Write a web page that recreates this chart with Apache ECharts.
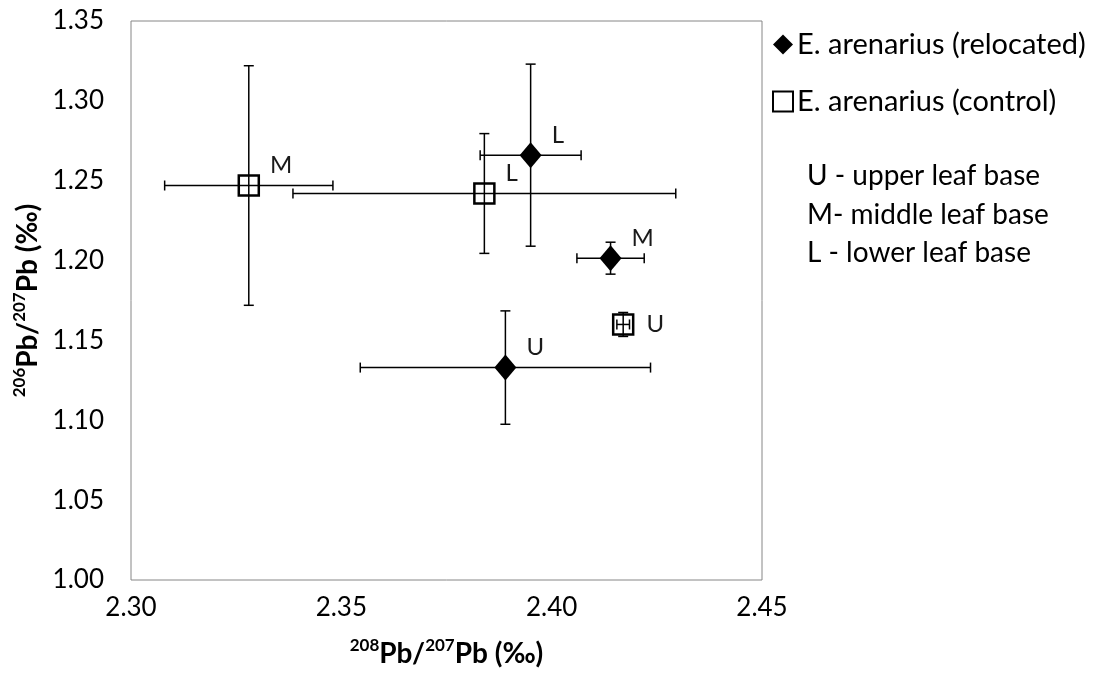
<!DOCTYPE html>
<html>
<head>
<meta charset="utf-8">
<script src="https://cdn.jsdelivr.net/npm/echarts@6/dist/echarts.min.js"></script>
<style>
  html, body { margin: 0; padding: 0; background: #fff; }
  #chart { width: 1106px; height: 679px; }
</style>
</head>
<body>
<div id="chart"></div>
<script>
// leaf base positions, same order in every array below
const positions = ['U', 'M', 'L'];

// E. arenarius (relocated)
const relocatedX = [2.389, 2.414, 2.395];
const relocatedY = [1.133, 1.2015, 1.266];
const relocatedXErr = [0.0345, 0.008, 0.012];
const relocatedYErr = [0.0355, 0.010, 0.057];

// E. arenarius (control)
const controlX = [2.417, 2.328, 2.384];
const controlY = [1.160, 1.247, 1.242];
const controlXErr = [0.0015, 0.020, 0.0455];
const controlYErr = [0.0075, 0.075, 0.0375];

const xTicks = [2.30, 2.35, 2.40, 2.45];
const yTicks = [1.00, 1.05, 1.10, 1.15, 1.20, 1.25, 1.30, 1.35];
const keyLines = ['U - upper leaf base', 'M- middle leaf base', 'L - lower leaf base'];

const FONT = 'Lato';

function points(xs, ys) {
  return xs.map((x, i) => ({ value: [x, ys[i]], name: positions[i] }));
}

function errRows(xs, ys, xe, ye) {
  return xs.map((x, i) => [x, ys[i], xe[i], ye[i]]);
}

function renderErr(params, api) {
  const x = api.value(0), y = api.value(1), xe = api.value(2), ye = api.value(3);
  const l = api.coord([x - xe, y]);
  const r = api.coord([x + xe, y]);
  const t = api.coord([x, y + ye]);
  const b = api.coord([x, y - ye]);
  const cap = 5;
  const style = { stroke: '#000', lineWidth: 1.5 };
  const seg = (x1, y1, x2, y2) => ({ type: 'line', shape: { x1, y1, x2, y2 }, style });
  return {
    type: 'group',
    children: [
      seg(l[0], l[1], r[0], r[1]),
      seg(l[0], l[1] - cap, l[0], l[1] + cap),
      seg(r[0], r[1] - cap, r[0], r[1] + cap),
      seg(t[0], t[1], b[0], b[1]),
      seg(t[0] - cap, t[1], t[0] + cap, t[1]),
      seg(b[0] - cap, b[1], b[0] + cap, b[1])
    ]
  };
}

const pointLabel = {
  show: true,
  formatter: '{b}',
  position: 'right',
  distance: 6,
  offset: [4, -20],
  color: '#1a1a1a',
  fontFamily: FONT,
  fontSize: 24
};

const titleRich = {
  b: { fontFamily: FONT, fontSize: 28, fontWeight: 'bold', color: '#000', verticalAlign: 'bottom', lineHeight: 31 },
  sup: { fontFamily: FONT, fontSize: 17, fontWeight: 'bold', color: '#000', verticalAlign: 'top', lineHeight: 19 }
};

const chart = echarts.init(document.getElementById('chart'));
chart.setOption({
  backgroundColor: '#fff',
  animation: false,
  grid: {
    left: 131, right: 344, top: 21, bottom: 99,
    show: true, borderColor: '#868686', borderWidth: 1
  },
  legend: {
    orient: 'vertical',
    left: 767,
    top: 25,
    itemWidth: 20,
    itemHeight: 20,
    itemGap: 28,
    data: ['E. arenarius (relocated)', 'E. arenarius (control)'],
    textStyle: { fontFamily: FONT, fontSize: 29, color: '#000', padding: [0, 0, 0, -1] }
  },
  xAxis: {
    type: 'value',
    min: xTicks[0],
    max: xTicks[xTicks.length - 1],
    interval: 0.05,
    axisLine: { show: false },
    axisTick: { show: false },
    splitLine: { show: false },
    axisLabel: {
      margin: 15,
      fontFamily: FONT, fontSize: 26, color: '#000',
      formatter: v => v.toFixed(2)
    },
    name: '{sup|208}{b|Pb/}{sup|207}{b|Pb (‰)}',
    nameLocation: 'middle',
    nameGap: 57,
    nameTextStyle: { rich: titleRich }
  },
  yAxis: {
    type: 'value',
    min: yTicks[0],
    max: yTicks[yTicks.length - 1],
    interval: 0.05,
    axisLine: { show: false },
    axisTick: { show: false },
    splitLine: { show: false },
    axisLabel: {
      margin: 27,
      fontFamily: FONT, fontSize: 26, color: '#000',
      formatter: v => v.toFixed(2)
    },
    name: '{sup|206}{b|Pb/}{sup|207}{b|Pb (‰)}',
    nameLocation: 'middle',
    nameRotate: 90,
    nameGap: 85,
    nameTextStyle: { rich: titleRich }
  },
  graphic: [{
    type: 'text',
    left: 807,
    top: 157,
    style: {
      text: keyLines.join('\n'),
      fontFamily: FONT,
      fontSize: 28,
      lineHeight: 38.5,
      fill: '#000'
    }
  }],
  series: [
    {
      type: 'custom',
      name: 'err-relocated',
      renderItem: renderErr,
      encode: { x: 0, y: 1 },
      data: errRows(relocatedX, relocatedY, relocatedXErr, relocatedYErr),
      z: 1,
      silent: true
    },
    {
      type: 'custom',
      name: 'err-control',
      renderItem: renderErr,
      encode: { x: 0, y: 1 },
      data: errRows(controlX, controlY, controlXErr, controlYErr),
      z: 1,
      silent: true
    },
    {
      type: 'scatter',
      name: 'E. arenarius (relocated)',
      symbol: 'diamond',
      symbolSize: [22, 26],
      itemStyle: { color: '#000', opacity: 1 },
      label: pointLabel,
      data: points(relocatedX, relocatedY),
      z: 3
    },
    {
      type: 'scatter',
      name: 'E. arenarius (control)',
      symbol: 'rect',
      symbolSize: 20,
      itemStyle: { color: 'rgba(255,255,255,0)', borderColor: '#000', borderWidth: 2.5, opacity: 1 },
      label: pointLabel,
      data: points(controlX, controlY).map((d, i) =>
        i === 0 ? Object.assign(d, { label: { offset: [6, 0] } }) : d),
      z: 3
    }
  ]
});
</script>
</body>
</html>
